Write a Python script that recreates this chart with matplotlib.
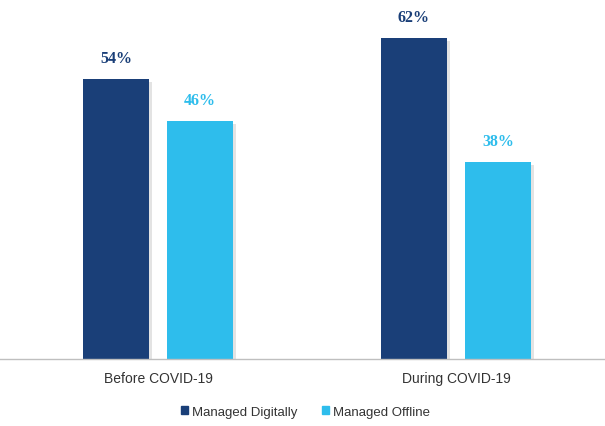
import matplotlib.pyplot as plt
import matplotlib.patheffects as pe
from matplotlib.patches import Patch
import numpy as np

categories = ["Before COVID-19", "During COVID-19"]
digital = [54, 62]
offline = [46, 38]
series_names = ["Managed Digitally", "Managed Offline"]

navy = "#1A3F78"
cyan = "#2EBDEC"

fig = plt.figure(figsize=(6.05, 4.27), dpi=100)
ax = fig.add_axes([0, 67 / 427, 1, 360 / 427])

x = np.arange(len(categories))
w = 0.221
off = 0.141
shadow = [pe.SimplePatchShadow(offset=(2.5, -2), alpha=0.2, shadow_rgbFace="#777777"), pe.Normal()]

b1 = ax.bar(x - off, digital, w, color=navy, path_effects=shadow)
b2 = ax.bar(x + off, offline, w, color=cyan, path_effects=shadow)

for bars, vals, c in [(b1, digital, navy), (b2, offline, cyan)]:
    for b, v in zip(bars, vals):
        ax.annotate(f"{v}%", (b.get_x() + b.get_width() / 2, v), xytext=(0, 9.5),
                    textcoords="offset points", ha="center", va="bottom",
                    color=c, fontsize=11.5, fontweight="bold", family="Liberation Serif")

ax.set_xlim(-0.530, 1.5)
ax.set_ylim(0, 69.5)
ax.set_yticks([])
ax.set_xticks(x)
ax.set_xticklabels(categories, fontsize=10, color="#333333", family="Liberation Sans")
ax.tick_params(axis="x", length=0, pad=9)
for s in ["top", "right", "left"]:
    ax.spines[s].set_visible(False)
ax.spines["bottom"].set_color("#BFBFBF")
ax.spines["bottom"].set_linewidth(1)

handles = [Patch(color=navy, label=series_names[0]), Patch(color=cyan, label=series_names[1])]
leg = fig.legend(handles=handles, loc="center", bbox_to_anchor=(0.505, 14 / 427), ncol=2,
                 frameon=False, handlelength=0.55, handleheight=0.55,
                 handletextpad=0.35, columnspacing=1.8,
                 prop={"family": "Liberation Sans", "size": 9.5})
for t in leg.get_texts():
    t.set_color("#333333")

fig.savefig("out.png", dpi=100)
